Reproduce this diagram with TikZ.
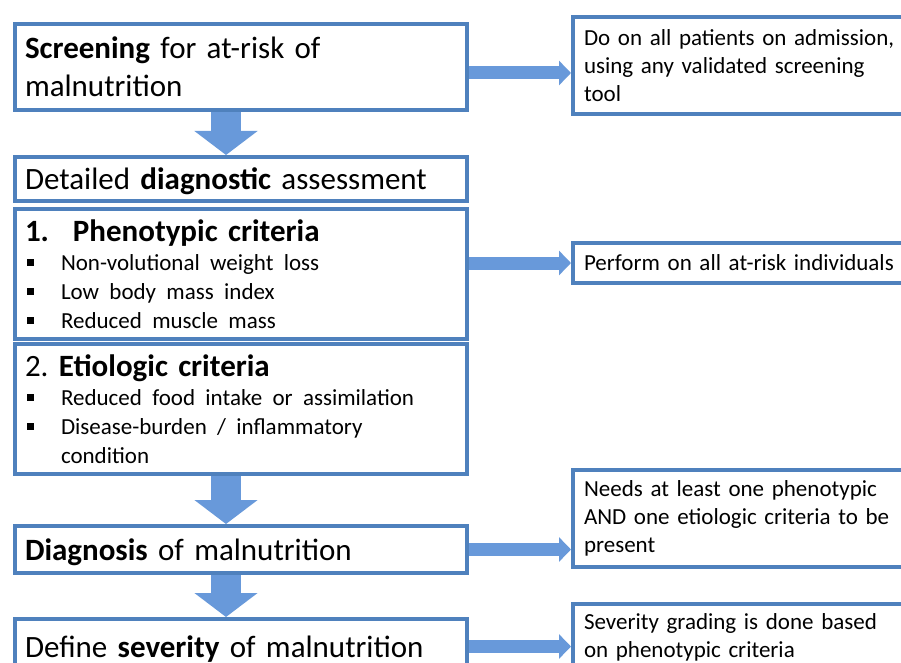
\documentclass[tikz,border=0pt]{standalone}
\usepackage{fontspec}
\setmainfont{Carlito}
\usetikzlibrary{arrows.meta}
\definecolor{boxblue}{RGB}{79,129,189}
\definecolor{arrblue}{RGB}{104,153,218}
\newcommand{\bitem}[1]{\makebox[36pt][l]{\hspace{2pt}\rule[4pt]{7pt}{7pt}}#1}
\frenchspacing

\begin{document}
\begin{tikzpicture}[x=1pt, y=-1pt,
  box/.style={draw=boxblue, line width=4pt, fill=white, anchor=north west, minimum width=452pt, text width=432pt, inner xsep=10pt, inner ysep=0pt, align=left, font=\fontsize{31}{38}\selectfont},
  note/.style={draw=boxblue, line width=4pt, fill=white, anchor=north west, minimum width=360pt, text width=338pt, inner xsep=11pt, inner ysep=0pt, align=left, font=\fontsize{23}{28}\selectfont},
  one/.style={text height=24pt, text depth=3pt},
  down/.style={draw=arrblue, line width=30pt, -{Triangle[width=62pt,length=24pt]}},
  side/.style={draw=arrblue, line width=13pt, -{Triangle[width=24pt,length=12pt]}}]
\clip (0,0) rectangle (901,663);
\fill[white] (0,0) rectangle (901,663);
\node[box, minimum height=86pt] (screen) at (13,22) {\textbf{Screening} for at-risk of\\ malnutrition};
\node[box, one, minimum height=44pt] (detail) at (13,155) {Detailed \textbf{diagnostic} assessment};
\node[box, minimum height=130pt] (pheno) at (13,207) {\textbf{\makebox[48pt][l]{1.}Phenotypic criteria}\\
  \fontsize{23}{29}\selectfont\bitem{Non-volutional weight loss}\\
  \bitem{Low body mass index}\\
  \bitem{Reduced muscle mass}\par};
\node[box, minimum height=130pt] (etio) at (13,342) {2. \textbf{Etiologic criteria}\\
  \fontsize{23}{29}\selectfont\bitem{Reduced food intake or assimilation}\\
  \bitem{Disease-burden / inflammatory}\\
  \hspace*{36pt}condition\par};
\node[box, one, minimum height=47pt] (diag) at (13,524) {\textbf{Diagnosis} of malnutrition};
\node[box, one, minimum height=55pt] (sev) at (13,617) {Define \textbf{severity} of malnutrition};
\node[note, minimum height=97pt] (note1) at (571,15) {Do on all patients on admission,\\ using any validated screening\\ tool};
\node[note, minimum height=40pt] (note2) at (571,241) {Perform on all at-risk individuals};
\node[note, minimum height=97pt] (note3) at (571,468) {Needs at least one phenotypic\\ AND one etiologic criteria to be\\ present};
\node[note, minimum height=66pt] (note4) at (571,602) {Severity grading is done based\\ on phenotypic criteria};
\path ([xshift=-15pt]screen.south) edge[down] ([xshift=-15pt]screen.south |- detail.north)
([xshift=-15pt]etio.south) edge[down] ([xshift=-15pt]etio.south |- diag.north)
([xshift=-15pt]diag.south) edge[down] ([xshift=-15pt]diag.south |- sev.north);
\path ([yshift=-6pt]screen.east) edge[side] ([yshift=-6pt]screen.east -| note1.west)
(note2.west -| pheno.east) edge[side] (note2.west)
(diag.east) edge[side] (diag.east -| note3.west)
(sev.east) edge[side] (sev.east -| note4.west);
\end{tikzpicture}
\end{document}
